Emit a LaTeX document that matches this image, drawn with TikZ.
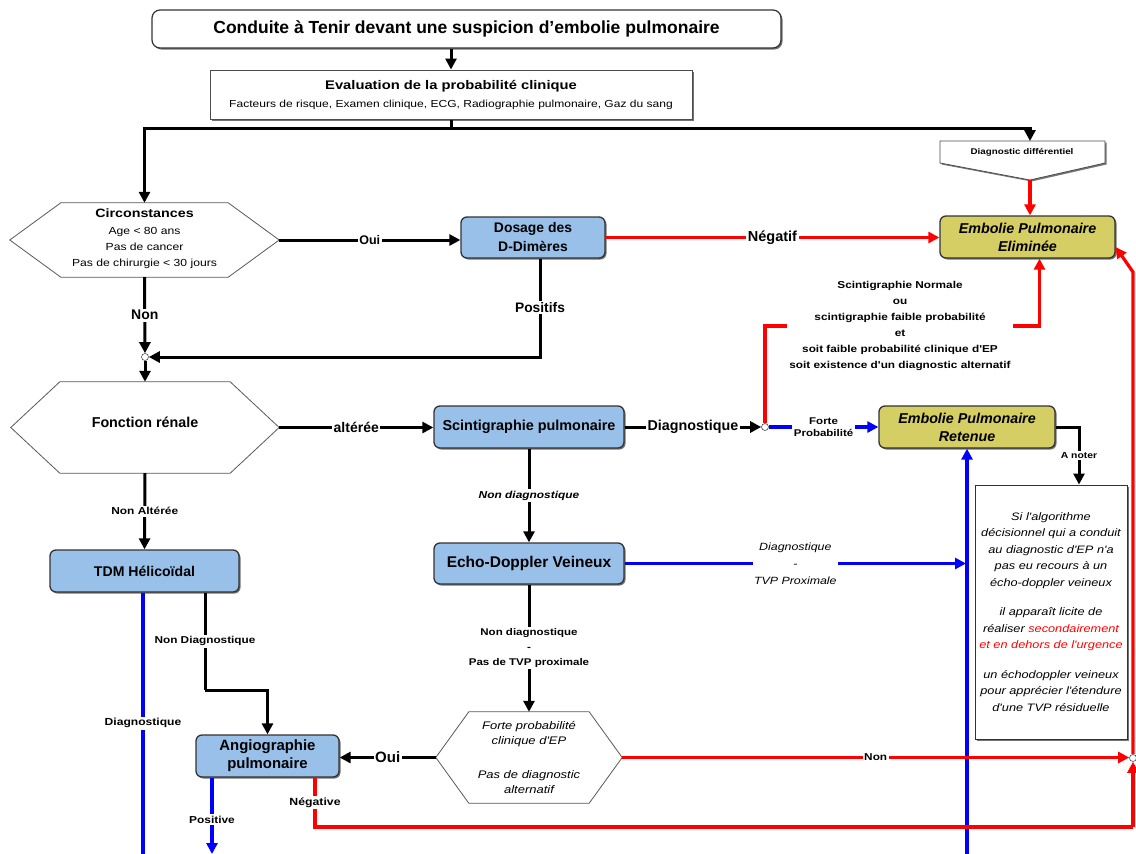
\documentclass[tikz,border=0pt]{standalone}
\usepackage{fontspec}
\setmainfont{Liberation Sans}
\newfontfamily\widefont{Liberation Sans}[FakeStretch=1.18]
\usetikzlibrary{arrows.meta,calc,shadows}
\definecolor{boxblue}{RGB}{152,192,232}
\definecolor{boxyel}{RGB}{212,206,100}
\newcommand{\fsz}[1]{\fontsize{#1}{#1}\selectfont}
\newcommand{\wfs}[2]{\widefont\fontsize{#1}{#2}\selectfont}
\begin{document}
\begin{tikzpicture}[x=1pt,y=-1pt,
  base/.style={align=center, inner sep=0pt, font=\bfseries\fsz{14}},
  shad/.style={drop shadow={shadow xshift=1.5pt, shadow yshift=-1.5pt, fill=black!55, opacity=1}},
  bluebox/.style={base, rectangle, rounded corners=6pt, draw=black!80, line width=1.3pt, fill=boxblue, shad},
  yelbox/.style={base, rectangle, rounded corners=6pt, draw=black!80, line width=1.3pt, fill=boxyel, shad,
                 font=\bfseries\itshape\fontsize{14.3}{18}\selectfont},
  hexnode/.style={base, rectangle, draw=none},
  hexdraw/.style={draw=black!65, line width=0.8pt, fill=white},
  junc/.style={circle, draw=black!70, fill=white, minimum size=7pt, inner sep=0pt, line width=0.6pt},
  lbl/.style={fill=white, inner sep=1.5pt, align=center, font=\bfseries\fsz{14}},
  slbl/.style={lbl, font=\bfseries\wfs{10.1}{12}},
  blk/.style={draw=black, line width=3pt},
  rd/.style={draw=red, line width=3.2pt},
  bl/.style={draw=blue, line width=3.2pt},
  arr/.style={-{Triangle[length=11pt,width=11pt]}}
]
\useasboundingbox[fill=white] (0,0) rectangle (1136,854);

% ---------- top ----------
\node[base, rectangle, rounded corners=8pt, draw=black!80, line width=1.2pt, fill=white, shad,
      minimum width=629, minimum height=38, font=\bfseries\fsz{17.5}] (title) at (466.5,29)
      {Conduite à Tenir devant une suspicion d'embolie pulmonaire};
\node[base, rectangle, draw=black!70, line width=1pt, fill=white, shad,
      minimum width=482, minimum height=49] (eval) at (451,94.5)
      {{\bfseries\wfs{12.5}{12.5}Evaluation de la probabilité clinique}\\[4pt]
       {\mdseries\wfs{10.2}{10.2}Facteurs de risque, Examen clinique, ECG, Radiographie pulmonaire, Gaz du sang}};

% Diagnostic differentiel
\draw[draw=black!70, line width=0.8pt, fill=white, shad] (940,141) -- (1105,141) -- (1105,163) -- (1030,180) -- (940,163) -- cycle;
\node[base, font=\bfseries\wfs{8.3}{8.3}] (dd) at (1022,152) {Diagnostic différentiel};
\coordinate (ddtop) at (1030,141);
\coordinate (ddbot) at (1030,180);

% ---------- hexagons ----------
\node[hexnode, minimum width=269, minimum height=74] (circ) at (144.5,240) {};
\draw[hexdraw] (circ.west) -- ([xshift=51pt]circ.north west) -- ([xshift=-51pt]circ.north east) -- (circ.east)
  -- ([xshift=-51pt]circ.south east) -- ([xshift=51pt]circ.south west) -- cycle;
\node[base, font=\mdseries\wfs{10.3}{16.3}] at ([yshift=1pt]circ.center)
  {{\bfseries\wfs{12.1}{16.3}Circonstances}\\Age < 80 ans\\Pas de cancer\\Pas de chirurgie < 30 jours};

\node[hexnode, minimum width=268, minimum height=91] (fonc) at (145,427.5) {};
\draw[hexdraw] (fonc.west) -- ([xshift=49pt]fonc.north west) -- ([xshift=-49pt]fonc.north east) -- (fonc.east)
  -- ([xshift=-49pt]fonc.south east) -- ([xshift=49pt]fonc.south west) -- cycle;
\node[base, font=\bfseries\fsz{14.3}] at ([yshift=5pt]fonc.center) {Fonction rénale};

\node[hexnode, minimum width=186, minimum height=91] (forte) at (529,757.5) {};
\draw[hexdraw] (forte.west) -- ([xshift=33pt]forte.north west) -- ([xshift=-33pt]forte.north east) -- (forte.east)
  -- ([xshift=-33pt]forte.south east) -- ([xshift=33pt]forte.south west) -- cycle;
\node[base, font=\mdseries\itshape\wfs{11}{15}] at (forte.center)
  {Forte probabilité\\clinique d'EP\\[19pt]Pas de diagnostic\\alternatif};

% ---------- boxes ----------
\node[bluebox, minimum width=144, minimum height=41, font=\bfseries\fontsize{13.9}{19}\selectfont] (dosage) at (533,237.5) {Dosage des\\D-Dimères};
\node[yelbox, minimum width=175, minimum height=42] (elim) at (1027.5,237) {Embolie Pulmonaire\\Eliminée};
\node[bluebox, minimum width=190, minimum height=42, font=\bfseries\fsz{14.4}] (scinti) at (529,427) {Scintigraphie pulmonaire};
\node[yelbox, minimum width=176, minimum height=42] (retenue) at (967,427) {Embolie Pulmonaire\\Retenue};
\node[bluebox, minimum width=190, minimum height=41, font=\bfseries\fsz{15.5}] (echo) at (529,563.5) {Echo-Doppler Veineux};
\node[bluebox, minimum width=189, minimum height=42, font=\bfseries\fsz{14.1}] (tdm) at (144.5,571) {TDM Hélicoïdal};
\node[bluebox, minimum width=143, minimum height=42, font=\bfseries\fontsize{14.9}{18}\selectfont] (angio) at (267.5,756) {Angiographie\\pulmonaire};

\node[base, rectangle, draw=black!80, line width=1pt, fill=white, shad, minimum width=152, minimum height=254,
      font=\mdseries\itshape\wfs{10.8}{16.5}] (note) at (1051,612)
  {Si l'algorithme\\décisionnel qui a conduit\\au diagnostic d'EP n'a\\pas eu recours à un\\écho-doppler veineux\\[13pt]
   il apparaît licite de\\réaliser \textcolor{red}{secondairement}\\\textcolor{red}{et en dehors de l'urgence}\\[13pt]
   un échodoppler veineux\\pour apprécier l'étendure\\d'une TVP résiduelle};

\node[base, font=\bfseries\wfs{10}{16}, inner sep=2pt] (scitext) at (900,326)
  {Scintigraphie Normale\\ou\\scintigraphie faible probabilité\\et\\soit faible probabilité clinique d'EP\\soit existence d'un diagnostic alternatif};

% junctions
\node[junc] (j1) at (145,357) {};
\node[junc] (j2) at (765,427) {};
\node[junc] (j3) at (1133,758) {};

% coordinates
\coordinate (split) at (451,128);
\coordinate (bv) at (967,854);
\coordinate (tdmend) at (143,854);
\coordinate (tdmk) at (205,690);
\coordinate (angend) at (212,854);
\coordinate (ng1) at (315,827);
\coordinate (ng2) at (1133,827);
\coordinate (er) at (1133,272);

% ---------- connectors ----------
\draw[blk,arr] (title.south -| eval.north) -- (eval.north);
\draw[blk] (eval.south) -- (split);
\draw[blk,arr] (split) -| (circ.north);
\draw[blk,arr] (split) -| (ddtop);
\draw[rd,arr] (ddbot) -- (ddbot |- elim.north);

\draw[blk,arr] (circ.east) -- node[lbl, font=\bfseries\fsz{12.5}]{Oui} (circ.east -| dosage.west);
\draw[blk,arr] (circ.south) -- node[lbl]{Non} (j1.north);
\draw[blk,arr] ([xshift=7pt]dosage.south) |- node[lbl, font=\bfseries\fsz{13.8},pos=0.25]{Positifs} (j1.east);
\draw[blk,arr] (j1.south) -- (fonc.north);
\draw[rd,arr] (dosage.east) -- node[lbl, font=\bfseries\fsz{14.5}]{Négatif} (dosage.east -| elim.west);

\draw[blk,arr] (fonc.east) -- node[lbl]{altérée} (fonc.east -| scinti.west);
\draw[blk,arr] (fonc.south) -- node[slbl]{Non Altérée} (tdm.north);
\draw[blk,arr] (scinti.east) -- node[lbl, font=\bfseries\fsz{14.3}]{Diagnostique} (j2.west);
\draw[bl,arr] (j2.east) -- node[slbl, font=\bfseries\wfs{9.75}{12}]{Forte\\Probabilité} (j2.east -| retenue.west);
\draw[rd] (j2.north) |- (scitext.west);
\draw[rd,arr] (scitext.east) -| ([xshift=12pt]elim.south);

\draw[blk,arr] (scinti.south) -- node[lbl, font=\bfseries\itshape\wfs{10.1}{12}]{Non diagnostique} (echo.north);
\draw[blk,arr] (echo.south) -- node[lbl, font=\bfseries\wfs{9.75}{15}]{Non diagnostique\\-\\Pas de TVP proximale} (forte.north);
\draw[bl,arr] (echo.east) -- node[lbl, font=\mdseries\itshape\wfs{10.5}{17}]{Diagnostique\\-\\TVP Proximale} ([xshift=-1pt]echo.east -| bv);
\draw[bl,arr] (bv) -- (retenue.south);
\draw[blk,arr] (retenue.east) -| node[slbl,pos=0.75, font=\bfseries\wfs{8.8}{10}]{A noter} ([xshift=28pt]note.north);

\draw[bl] ([xshift=-1.5pt]tdm.south) -- node[slbl, font=\bfseries\wfs{10.25}{12}]{Diagnostique} (tdmend);
\draw[blk] ([xshift=60.5pt]tdm.south) -- node[slbl, font=\bfseries\wfs{10}{12}]{Non Diagnostique} (tdmk);
\draw[blk,arr] (tdmk) -| (angio.north);

\draw[blk,arr] (forte.west) -- node[lbl, font=\bfseries\fsz{15}]{Oui} (forte.west -| angio.east);
\draw[rd,arr] (forte.east) -- node[slbl, font=\bfseries\wfs{10}{12}]{Non} (forte.east -| j3.west);
\draw[bl,arr] ([xshift=-55.5pt]angio.south) -- node[slbl,pos=0.55]{Positive} (angend);
\draw[rd] ([xshift=47.5pt]angio.south) -- node[slbl, font=\bfseries\wfs{10.4}{12}]{Négative} (ng1) -- (ng2);
\draw[rd,arr] (ng2) -- (j3.south);
\draw[rd,arr] (j3.north) -- (er) -- ([yshift=-10pt]elim.east);
\end{tikzpicture}
\end{document}
